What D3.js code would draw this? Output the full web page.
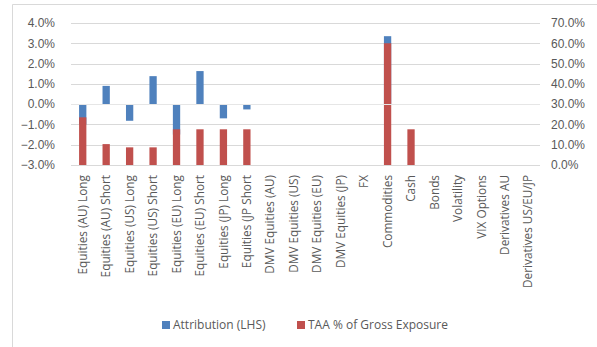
<!DOCTYPE html>
<html lang="en">
<head>
	<meta charset="utf-8"/>
	<title>Attribution vs TAA</title>
	<script src="https://d3js.org/d3.v7.min.js" charset="utf-8"></script>
	<style>
		body { margin: 0; background: #fff; }
		svg { font-family: "Open Sans", sans-serif; }
		.axis .domain { display: none; }
		.axis text { fill: #595959; }
	</style>
</head>
<body>
<div id="chart"></div>

<script>
	// categories along the bottom
	var categories = [
		"Equities (AU) Long", "Equities (AU) Short", "Equities (US) Long", "Equities (US) Short",
		"Equities (EU) Long", "Equities (EU) Short", "Equities (JP) Long", "Equities (JP Short",
		"DMV Equities (AU)", "DMV Equities (US)", "DMV Equities (EU)", "DMV Equities (JP)",
		"FX", "Commodities", "Cash", "Bonds", "Volatility", "VIX Options",
		"Derivatives AU", "Derivatives US/EU/JP"
	];

	// Attribution (LHS), in %
	var attribution = [-1.0, 0.9, -0.82, 1.38, -1.5, 1.63, -0.7, -0.26,
		null, null, null, null, null, 3.35, null, null, null, null, null, null];

	// TAA % of Gross Exposure (RHS), in %
	var taa = [23.5, 10.3, 8.7, 8.7, 17.6, 17.6, 17.6, 17.6,
		null, null, null, null, null, 60.0, 17.6, null, null, null, null, null];

	var leftTicks = [-3, -2, -1, 0, 1, 2, 3, 4];
	var rightTicks = [0, 10, 20, 30, 40, 50, 60, 70];

	var width = 597,
		height = 347;

	var svg = d3.select("#chart").append("svg")
		.attr("width", width)
		.attr("height", height);

	// chart frame (only the top and left edges show in the picture)
	svg.append("path")
		.attr("d", "M12.5,347 V4.5 H597")
		.attr("fill", "none")
		.attr("stroke", "#d9d9d9");

	var x = d3.scaleBand()
		.domain(categories)
		.range([71, 540]);

	var yL = d3.scaleLinear().domain([-3, 4]).range([165, 23]);
	var yR = d3.scaleLinear().domain([0, 70]).range([165, 23]);

	var barW = 7.3;
	var fmt = d3.format(".1f");

	// gridlines
	svg.append("g")
		.selectAll("line")
		.data(leftTicks)
		.enter().append("line")
			.attr("x1", 71)
			.attr("x2", 540)
			.attr("y1", function(d) { return Math.round(yL(d)) + 0.5; })
			.attr("y2", function(d) { return Math.round(yL(d)) + 0.5; })
			.attr("stroke", "#d9d9d9");

	// left axis
	svg.append("g")
		.attr("class", "axis")
		.attr("transform", "translate(71,0)")
		.call(d3.axisLeft(yL).tickValues(leftTicks).tickSize(0).tickPadding(16)
			.tickFormat(function(d) { return fmt(d) + "%"; }))
		.selectAll("text")
			.style("font-size", "12px");

	// right axis
	svg.append("g")
		.attr("class", "axis")
		.attr("transform", "translate(540,0)")
		.call(d3.axisRight(yR).tickValues(rightTicks).tickSize(0).tickPadding(11)
			.tickFormat(function(d) { return fmt(d) + "%"; }))
		.selectAll("text")
			.style("font-size", "12px");

	// attribution bars (primary axis)
	svg.append("g")
		.selectAll("rect")
		.data(categories.map(function(c, i) { return {c: c, v: attribution[i]}; })
			.filter(function(d) { return d.v != null; }))
		.enter().append("rect")
			.attr("x", function(d) { return x(d.c) + x.bandwidth() / 2 - barW / 2; })
			.attr("y", function(d) { return Math.min(yL(d.v), yL(0)); })
			.attr("width", barW)
			.attr("height", function(d) { return Math.abs(yL(d.v) - yL(0)); })
			.attr("fill", "#4f81bd");

	// TAA bars (secondary axis), drawn on top
	svg.append("g")
		.selectAll("rect")
		.data(categories.map(function(c, i) { return {c: c, v: taa[i]}; })
			.filter(function(d) { return d.v != null; }))
		.enter().append("rect")
			.attr("x", function(d) { return x(d.c) + x.bandwidth() / 2 - barW / 2; })
			.attr("y", function(d) { return yR(d.v); })
			.attr("width", barW)
			.attr("height", function(d) { return yR(0) - yR(d.v); })
			.attr("fill", "#c0504d");

	// horizontal axis line at zero of the primary axis
	svg.append("line")
		.attr("x1", 71)
		.attr("x2", 540)
		.attr("y1", Math.round(yL(0)) + 0.5)
		.attr("y2", Math.round(yL(0)) + 0.5)
		.attr("stroke", "#e6e6e6");

	// category labels, rotated
	svg.append("g")
		.attr("class", "axis")
		.selectAll("text")
		.data(categories)
		.enter().append("text")
			.attr("transform", function(d) {
				return "translate(" + (x(d) + x.bandwidth() / 2) + ",175) rotate(-90)";
			})
			.attr("dy", "0.35em")
			.attr("text-anchor", "end")
			.style("font-size", "11.8px")
			.text(function(d) { return d; });

	// legend
	var legendItems = [
		{name: "Attribution (LHS)", color: "#4f81bd", x: 162},
		{name: "TAA % of Gross Exposure", color: "#c0504d", x: 297}
	];

	var legend = svg.append("g")
		.selectAll("g")
		.data(legendItems)
		.enter().append("g")
			.attr("transform", function(d) { return "translate(" + d.x + ",321)"; });

	legend.append("rect")
		.attr("width", 8)
		.attr("height", 8)
		.attr("fill", function(d) { return d.color; });

	legend.append("text")
		.attr("x", 11)
		.attr("y", 4)
		.attr("dy", "0.35em")
		.attr("fill", "#595959")
		.style("font-size", "12px")
		.text(function(d) { return d.name; });
</script>
</body>
</html>
